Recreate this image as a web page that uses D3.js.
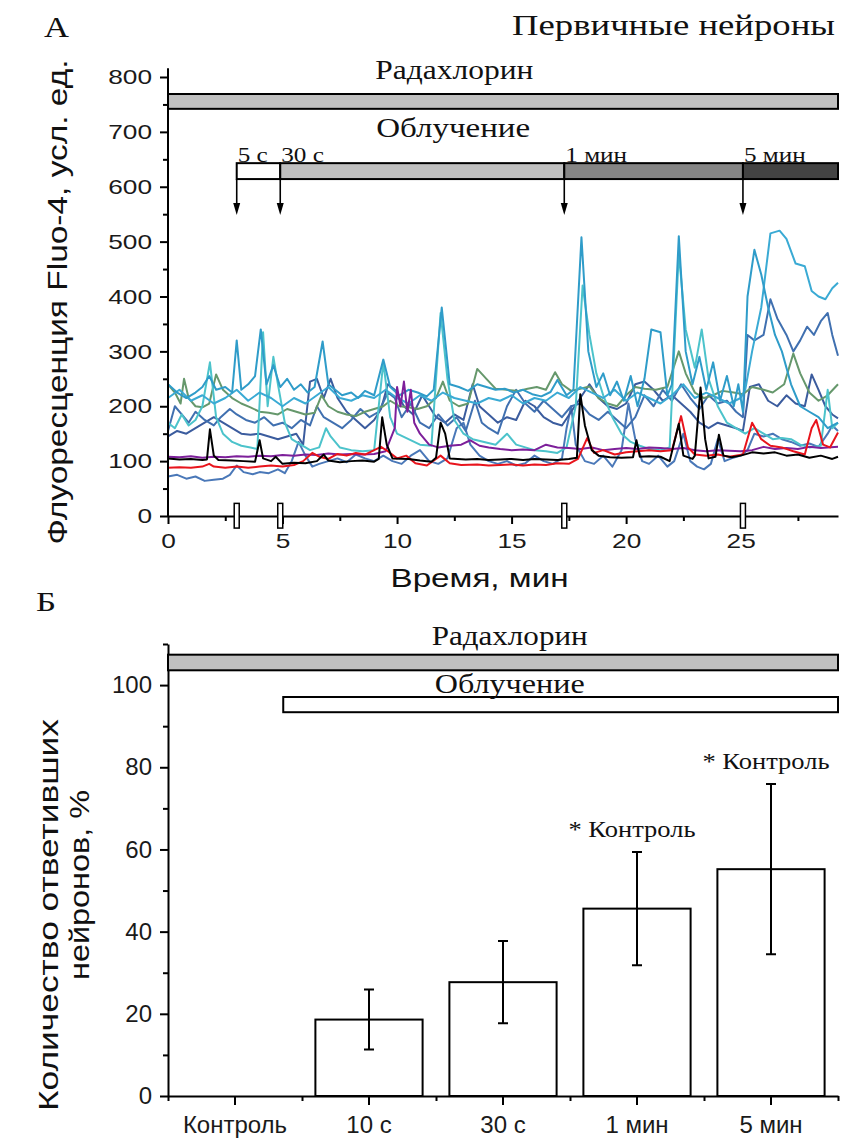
<!DOCTYPE html>
<html>
<head>
<meta charset="utf-8">
<title>Первичные нейроны</title>
<style>
  body { margin: 0; background: #fff; }
  .sans { font-family: "Liberation Sans", Arial, sans-serif; }
  .serif { font-family: "Liberation Serif", "Times New Roman", serif; }
  .axis path, .axis line { stroke: #000; stroke-width: 2; fill: none; }
  .axis text { fill: #1a1a1a; }
</style>
</head>
<body>
<script src="https://d3js.org/d3.v7.min.js"></script>
<script>
    var width = 842,
        height = 1138;

    // ---- panel A: Fluo-4 traces, [time (min), fluorescence] ----
    var traceBlack = [[0,105],[0.5,103],[1,104],[1.5,102],[1.7,103],[1.83,158],[2.0,110],[2.2,102],[2.8,101],[3.3,100],[3.8,99],[4.0,138],[4.15,105],[4.5,100],[4.7,108],[5.0,95],[5.5,97],[6.0,96],[6.5,100],[6.8,112],[7.0,101],[7.5,98],[8.0,100],[8.5,101],[9.0,99],[9.2,104],[9.35,180],[9.55,130],[9.8,105],[10.5,104],[11.0,101],[11.5,99],[11.7,106],[11.9,170],[12.1,150],[12.3,105],[13.0,103],[13.5,104],[14,102],[14.5,103],[15,104],[15.5,102],[16,104],[16.5,103],[17,102],[17.5,104],[17.85,106],[18.0,222],[18.2,165],[18.5,120],[18.8,110],[19.3,107],[19.8,106],[20.3,107],[20.45,138],[20.6,108],[21,109],[21.5,108],[21.9,100],[22.3,168],[22.5,110],[22.9,104],[23.0,110],[23.25,234],[23.45,140],[23.6,105],[23.9,108],[24.05,148],[24.25,110],[24.6,107],[25,110],[25.5,116],[26,114],[26.5,116],[27,110],[27.5,112],[28,106],[28.5,110],[29,104],[29.25,108]];
    var traceRed = [[0,88],[0.5,89],[1,88],[1.5,90],[1.8,95],[2.0,90],[2.5,88],[3,90],[3.5,88],[4,90],[4.5,92],[5,90],[5.5,93],[5.9,100],[6.3,115],[6.6,108],[7,104],[7.4,113],[7.8,110],[8.2,115],[8.6,112],[9.0,120],[9.3,126],[9.6,118],[10,105],[10.4,110],[10.8,96],[11.3,92],[11.9,110],[12.3,96],[12.8,93],[13.5,94],[14,92],[14.5,93],[15,94],[15.5,92],[16,94],[16.5,93],[17,96],[17.5,95],[17.9,104],[18.3,142],[18.6,115],[19,120],[19.5,112],[20,116],[20.5,118],[21,120],[21.5,118],[22.0,120],[22.4,182],[22.7,125],[23,112],[23.5,110],[24,112],[24.5,108],[25.1,112],[25.5,170],[25.9,140],[26.3,128],[26.8,125],[27.3,118],[27.8,112],[28.1,160],[28.3,175],[28.6,130],[28.9,125],[29.25,152]];
    var tracePurple = [[0,108],[0.5,107],[1,109],[1.5,106],[2,108],[2.5,107],[3,109],[3.5,108],[4,110],[4.5,109],[5,111],[5.5,110],[6,112],[6.5,111],[7,114],[7.5,112],[8,113],[8.5,112],[9,113],[9.5,118],[9.9,160],[10.0,235],[10.15,200],[10.3,245],[10.45,190],[10.6,230],[10.75,170],[11.0,150],[11.4,130],[11.8,125],[12.3,128],[12.8,130],[13.2,138],[13.6,128],[14,125],[14.5,122],[15,120],[15.5,121],[16,120],[16.5,130],[17,125],[17.5,124],[18,122],[18.5,125],[19,120],[19.5,122],[20,124],[20.5,122],[21,125],[21.5,124],[22,122],[22.5,124],[23,120],[23.5,118],[24,120],[24.5,119],[25,118],[25.5,120],[26,126],[26.5,122],[27,124],[27.5,122],[28,126],[28.5,124],[29.25,126]];
    var traceGreen = [[0,240],[0.3,225],[0.55,205],[0.7,250],[0.9,215],[1.2,200],[1.5,198],[1.8,205],[2.1,258],[2.4,230],[2.8,215],[3.2,205],[3.6,198],[4.0,190],[4.4,188],[4.8,185],[5.2,195],[5.6,190],[6.0,185],[6.4,188],[6.7,220],[7.0,200],[7.4,190],[7.8,185],[8.2,182],[8.6,190],[9.0,195],[9.4,200],[9.7,210],[10.1,200],[10.5,198],[10.9,195],[11.3,200],[11.7,215],[12.0,245],[12.3,210],[12.7,200],[13.1,205],[13.5,268],[13.9,250],[14.3,232],[14.8,230],[15.3,228],[15.7,232],[16.1,235],[16.5,230],[16.9,262],[17.2,240],[17.6,228],[18.0,232],[18.4,236],[18.8,215],[19.2,205],[19.6,200],[20.0,220],[20.4,235],[20.8,232],[21.3,230],[21.8,235],[22.3,300],[22.6,260],[23.0,225],[23.4,215],[23.8,220],[24.2,228],[24.7,225],[25.1,222],[25.5,235],[26.0,230],[26.4,225],[26.9,240],[27.3,296],[27.6,260],[28.0,225],[28.4,210],[28.8,220],[29.25,240]];
    var traceTurquoise = [[0,170],[0.3,160],[0.6,185],[0.9,165],[1.2,175],[1.5,200],[1.83,280],[2.1,180],[2.4,150],[2.8,135],[3.2,128],[3.6,125],[3.9,122],[4.15,335],[4.35,200],[4.6,290],[4.8,240],[5.1,170],[5.4,140],[5.8,130],[6.2,120],[6.6,125],[6.9,160],[7.1,145],[7.5,125],[8,120],[8.5,118],[9,120],[9.4,280],[9.7,180],[10,150],[10.5,140],[11,130],[11.5,128],[11.9,370],[12.2,250],[12.5,175],[12.9,150],[13.3,140],[13.8,135],[14.3,130],[14.8,150],[15.2,130],[15.6,125],[16,120],[16.5,118],[17,115],[17.4,125],[17.8,200],[18.1,420],[18.4,330],[18.7,260],[19.0,220],[19.4,180],[19.8,150],[20.2,135],[20.6,128],[21,122],[21.5,120],[21.9,125],[22.3,480],[22.6,340],[23.0,270],[23.3,340],[23.6,250],[24.0,200],[24.4,170],[24.8,160],[25.2,150],[25.6,160],[26,150],[26.4,140],[26.8,142],[27.2,140],[27.6,130],[28,125],[28.5,128],[28.8,230],[29.0,160],[29.25,170]];
    var traceSky = [[0,240],[0.4,225],[0.8,215],[1.2,225],[1.5,235],[1.8,255],[2.1,230],[2.5,235],[2.8,225],[3.0,320],[3.2,230],[3.5,240],[3.8,255],[4.05,340],[4.3,240],[4.6,275],[4.9,235],[5.2,250],[5.5,230],[5.8,240],[6.1,225],[6.4,235],[6.75,318],[7.0,240],[7.3,230],[7.6,220],[8.0,225],[8.3,215],[8.6,228],[9.0,220],[9.4,285],[9.7,235],[10.1,220],[10.5,230],[10.9,225],[11.3,218],[11.6,230],[11.95,380],[12.3,240],[12.7,235],[13.1,228],[13.5,240],[13.9,235],[14.3,230],[14.7,232],[15.1,225],[15.5,230],[15.9,222],[16.3,218],[16.7,226],[17.0,248],[17.4,220],[17.7,230],[18.05,508],[18.35,300],[18.7,235],[19.0,260],[19.3,220],[19.6,245],[19.9,210],[20.2,255],[20.5,200],[20.8,250],[21.1,340],[21.5,335],[21.8,220],[22.0,240],[22.3,510],[22.6,300],[22.9,240],[23.2,290],[23.5,230],[23.8,280],[24.1,210],[24.4,255],[24.7,200],[24.9,240],[25.1,190],[25.3,400],[25.6,485],[25.9,440],[26.2,380],[26.5,330],[26.8,300],[27.2,240],[27.6,200],[28.0,190],[28.4,180],[28.8,160],[29.25,170]];
    var traceSkyLight = [[0,215],[0.5,230],[1.0,210],[1.5,220],[2.0,205],[2.5,215],[3.0,230],[3.5,210],[4.0,225],[4.5,215],[5.0,200],[5.5,215],[6.0,205],[6.5,220],[7.0,235],[7.5,215],[8.0,210],[8.5,220],[9.0,215],[9.5,230],[10.0,215],[10.5,205],[11.0,220],[11.5,210],[12.0,225],[12.5,215],[13.0,210],[13.5,205],[14.0,215],[14.5,210],[15.0,220],[15.5,205],[16.0,215],[16.5,210],[17.0,225],[17.5,215],[18.0,235],[18.5,225],[19.0,215],[19.5,230],[20.0,210],[20.5,225],[21.0,215],[21.5,205],[22.0,220],[22.5,240],[23.0,215],[23.5,225],[24.0,215],[24.5,205],[25.0,215],[25.2,230],[25.5,300],[25.9,380],[26.3,515],[26.7,520],[27.0,505],[27.4,460],[27.8,455],[28.1,410],[28.4,400],[28.7,395],[29.0,415],[29.25,425]];
    var traceSteel = [[0,155],[0.3,200],[0.6,185],[0.9,170],[1.2,190],[1.6,175],[2.0,165],[2.3,180],[2.7,195],[3.0,185],[3.4,175],[3.8,170],[4.2,180],[4.6,165],[5.0,170],[5.4,160],[5.8,175],[6.2,165],[6.5,200],[6.8,180],[7.2,170],[7.6,160],[8.0,175],[8.4,195],[8.8,180],[9.2,190],[9.6,225],[9.9,215],[10.2,180],[10.6,205],[11.0,170],[11.4,160],[11.8,185],[12.2,165],[12.6,180],[13.0,155],[13.4,210],[13.7,170],[14.0,160],[14.4,150],[14.8,200],[15.2,230],[15.6,205],[16.0,190],[16.4,210],[16.8,195],[17.2,180],[17.6,200],[18.0,205],[18.4,185],[18.8,175],[19.2,190],[19.6,175],[20.0,160],[20.4,180],[20.8,220],[21.2,200],[21.6,230],[22.0,210],[22.4,240],[22.8,215],[23.2,195],[23.6,220],[24.0,205],[24.4,210],[24.8,190],[25.1,180],[25.3,330],[25.6,320],[26.0,330],[26.3,395],[26.6,360],[27.0,330],[27.3,300],[27.6,320],[27.9,345],[28.2,330],[28.5,355],[28.8,370],[29.0,330],[29.25,292]];
    var traceNavy = [[0,145],[0.4,155],[0.8,150],[1.2,160],[1.6,170],[2.0,180],[2.4,170],[2.8,160],[3.2,150],[3.6,148],[4.0,150],[4.4,145],[4.8,140],[5.2,145],[5.6,150],[5.9,130],[6.2,245],[6.5,250],[6.8,215],[7.1,250],[7.4,215],[7.8,190],[8.2,175],[8.6,160],[9.0,175],[9.3,195],[9.6,240],[9.9,230],[10.3,200],[10.7,185],[11.1,220],[11.4,200],[11.7,180],[12.1,170],[12.5,185],[12.9,175],[13.3,240],[13.6,200],[14,185],[14.4,170],[14.8,180],[15.2,175],[15.6,210],[16,200],[16.4,180],[16.8,170],[17.2,165],[17.6,190],[18.0,215],[18.4,240],[18.8,215],[19.2,200],[19.6,195],[20.0,205],[20.4,240],[20.8,245],[21.2,230],[21.6,210],[22.0,220],[22.4,205],[22.8,190],[23.2,170],[23.6,160],[24.0,170],[24.4,165],[24.8,160],[25.1,155],[25.4,235],[25.8,240],[26.2,210],[26.6,200],[27.0,220],[27.4,205],[27.8,200],[28.1,258],[28.4,230],[28.7,200],[29.0,185],[29.25,178]];
    var traceLowBlue = [[0,72],[0.4,75],[0.8,68],[1.2,72],[1.6,64],[2.0,66],[2.4,68],[2.7,75],[3.0,92],[3.3,80],[3.7,76],[4.0,80],[4.4,78],[4.8,85],[5.1,78],[5.4,100],[5.7,135],[6.0,110],[6.3,90],[6.6,95],[7.0,100],[7.4,105],[7.8,98],[8.2,112],[8.6,105],[9.0,100],[9.4,110],[9.8,100],[10.2,95],[10.6,110],[11.0,120],[11.4,100],[11.8,95],[12.2,105],[12.6,160],[12.9,170],[13.2,130],[13.6,110],[14.0,100],[14.4,95],[14.8,100],[15.2,92],[15.6,96],[16.0,110],[16.4,100],[16.8,95],[17.2,105],[17.4,160],[17.6,200],[17.8,130],[18.2,100],[18.6,95],[19.0,110],[19.4,90],[19.8,120],[20.1,205],[20.4,140],[20.7,100],[21.0,95],[21.4,110],[21.8,90],[22.1,100],[22.5,150],[22.8,100],[23.1,90],[23.4,85],[23.7,95],[24.0,140],[24.3,100],[24.6,105],[25.0,110],[25.3,120],[25.6,150],[26.0,145],[26.4,150],[26.8,140],[27.2,135],[27.6,128],[28.0,132],[28.4,126],[28.8,150],[29.0,165],[29.25,155]];

    // drawing order, back to front
    var traces = [traceLowBlue, traceNavy, traceSteel, traceGreen, traceTurquoise, traceSkyLight, traceSky, tracePurple, traceRed, traceBlack];
    var traceColors = ["#4a78b8", "#3b5c9e", "#4070b0", "#66986c", "#4cc3cb", "#3aaad4", "#2f9cc9", "#7d1f9a", "#e8141c", "#000000"];

    // treatment bars of panel A (time in min, bar bounds in fluorescence units)
    var radachlorinA = [0, 29.25, 742, 769];
    var irradiationA = [614, 643];
    var irradiationTimes = [3, 4.9, 17.3, 25.1];
    var irradiationLabels = ["5 с", "30 с", "1 мин", "5 мин"];
    var irradiationFills = ["#ffffff", "#c0c0c0", "#858585", "#434343"];

    // ---- panel B: share of responding neurons ----
    var categories = ["Контроль", "10 с", "30 с", "1 мин", "5 мин"];
    var responded = [0, 18.6, 27.7, 45.6, 55.2];
    var respondedErr = [0, 7.3, 10, 13.8, 20.7];
    var vsControl = [false, false, false, true, true];
    var radachlorinB = [103.6, 107.4];
    var irradiationB = [93.4, 97.1];

    var sans = "sans", serif = "serif";

    var svg = d3.select("body").append("svg")
        .attr("width", width)
        .attr("height", height);

    function stretch(sel, k) { // the original panel A lettering is a bit wide
        sel.each(function () {
            var w = this.getComputedTextLength();
            this.setAttribute("textLength", w * k);
            this.setAttribute("lengthAdjust", "spacingAndGlyphs");
        });
    }

    function label(x, y, str, cls, size, len, anchor) {
        var t = svg.append("text")
            .attr("class", cls)
            .attr("x", x).attr("y", y)
            .attr("font-size", size)
            .attr("text-anchor", anchor || "start")
            .attr("fill", "#111")
            .text(str);
        if (len) t.attr("textLength", len).attr("lengthAdjust", "spacingAndGlyphs");
        return t;
    }

    // ================= panel A =================
    var xA = d3.scaleLinear().domain([0, 29.25]).range([168, 838]);
    var yA = d3.scaleLinear().domain([0, 800]).range([516, 77]);

    var gA = svg.append("g");

    // traces
    var line = d3.line()
        .x(function (d) { return xA(d[0]); })
        .y(function (d) { return yA(d[1]); });

    gA.selectAll("path.trace")
        .data(traces)
        .enter().append("path")
        .attr("class", "trace")
        .attr("d", line)
        .attr("fill", "none")
        .attr("stroke", function (d, i) { return traceColors[i]; })
        .attr("stroke-width", 2)
        .attr("stroke-linejoin", "round");

    // axes
    var yAxisA = gA.append("g").attr("class", "axis sans")
        .attr("transform", "translate(168,0)")
        .call(d3.axisLeft(yA).tickValues(d3.range(0, 801, 100)).tickSize(8).tickPadding(8).tickSizeOuter(0));
    yAxisA.selectAll("text").attr("font-size", 21).call(stretch, 1.25);
    yAxisA.select(".domain").attr("d", "M0," + yA(0) + "V" + yA(816));
    gA.append("g").attr("class", "axis")
        .attr("transform", "translate(168,0)")
        .call(d3.axisLeft(yA).tickValues(d3.range(50, 800, 100)).tickSize(5).tickFormat("").tickSizeOuter(0))
        .select(".domain").remove();

    var xAxisA = gA.append("g").attr("class", "axis sans")
        .attr("transform", "translate(0," + yA(0) + ")")
        .call(d3.axisBottom(xA).tickValues(d3.range(0, 26, 5)).tickSize(8).tickPadding(9).tickSizeOuter(0));
    xAxisA.selectAll("text").attr("font-size", 21).call(stretch, 1.25);
    gA.append("g").attr("class", "axis")
        .attr("transform", "translate(0," + yA(0) + ")")
        .call(d3.axisBottom(xA).tickValues(d3.range(2.5, 29, 5)).tickSize(5).tickFormat("").tickSizeOuter(0))
        .select(".domain").remove();

    // irradiation markers on the time axis
    gA.selectAll("rect.mark")
        .data(irradiationTimes)
        .enter().append("rect")
        .attr("class", "mark")
        .attr("x", function (d) { return xA(d) - 2.5; })
        .attr("y", yA(23))
        .attr("width", 5)
        .attr("height", yA(-22) - yA(23))
        .attr("fill", "#fff")
        .attr("stroke", "#000")
        .attr("stroke-width", 1.5);

    // radachlorin bar
    gA.append("rect")
        .attr("x", xA(radachlorinA[0]))
        .attr("y", yA(radachlorinA[3]))
        .attr("width", xA(radachlorinA[1]) - xA(radachlorinA[0]))
        .attr("height", yA(radachlorinA[2]) - yA(radachlorinA[3]))
        .attr("fill", "#c0c0c0").attr("stroke", "#000").attr("stroke-width", 2);

    // irradiation bar, one segment per dose
    gA.selectAll("rect.dose")
        .data(irradiationTimes)
        .enter().append("rect")
        .attr("class", "dose")
        .attr("x", function (d) { return xA(d); })
        .attr("y", yA(irradiationA[1]))
        .attr("width", function (d, i) {
            var end = i < irradiationTimes.length - 1 ? irradiationTimes[i + 1] : 29.25;
            return xA(end) - xA(d);
        })
        .attr("height", yA(irradiationA[0]) - yA(irradiationA[1]))
        .attr("fill", function (d, i) { return irradiationFills[i]; })
        .attr("stroke", "#000").attr("stroke-width", 2);

    // arrows down from each dose
    irradiationTimes.forEach(function (t) {
        var x = xA(t), y0 = yA(irradiationA[0]);
        gA.append("line")
            .attr("x1", x).attr("x2", x)
            .attr("y1", y0).attr("y2", y0 + 26)
            .attr("stroke", "#000").attr("stroke-width", 1.6);
        gA.append("path")
            .attr("d", "M" + (x - 3.5) + "," + (y0 + 24) + "L" + (x + 3.5) + "," + (y0 + 24) + "L" + x + "," + (y0 + 36) + "Z")
            .attr("fill", "#000");
    });

    irradiationLabels.forEach(function (s, i) {
        var t = label(xA(irradiationTimes[i]) + 1, yA(irradiationA[1]) - 1, s, serif, 21);
        stretch(t, 1.2);
    });

    label(xA(12.5), 79, "Радахлорин", serif, 27, 158, "middle");
    label(xA(12.45), 137, "Облучение", serif, 27, 154, "middle");
    label(835, 35, "Первичные нейроны", serif, 30, 323, "end");
    label(44, 37, "А", serif, 29, 25);

    label(xA(13.6), 587, "Время, мин", sans, 26, 178, "middle");

    svg.append("text")
        .attr("class", sans)
        .attr("transform", "translate(67,302) rotate(-90)")
        .attr("font-size", 27)
        .attr("text-anchor", "middle")
        .attr("fill", "#111")
        .attr("textLength", 485).attr("lengthAdjust", "spacingAndGlyphs")
        .text("Флуоресценция Fluo-4, усл. ед.");

    // ================= panel B =================
    var xB = d3.scaleBand().domain(categories).range([168, 838]).paddingInner(0.2).paddingOuter(0.1);
    var idxB = d3.scaleLinear().domain([-0.5, 4.5]).range([168, 838]);
    var yB = d3.scaleLinear().domain([0, 110]).range([1096, 644]);

    var gB = svg.append("g");

    var yAxisB = gB.append("g").attr("class", "axis sans")
        .attr("transform", "translate(168,0)")
        .call(d3.axisLeft(yB).tickValues(d3.range(0, 101, 20)).tickSize(8).tickPadding(8).tickSizeOuter(0));
    yAxisB.selectAll("text").attr("font-size", 24);
    gB.append("g").attr("class", "axis")
        .attr("transform", "translate(168,0)")
        .call(d3.axisLeft(yB).tickValues(d3.range(10, 111, 20)).tickSize(5).tickFormat("").tickSizeOuter(0))
        .select(".domain").remove();

    var xAxisB = gB.append("g").attr("class", "axis sans")
        .attr("transform", "translate(0," + yB(0) + ")")
        .call(d3.axisBottom(xB).tickSize(9).tickPadding(11).tickSizeOuter(0));
    xAxisB.selectAll("text").attr("font-size", 24);
    gB.append("g").attr("class", "axis")
        .attr("transform", "translate(0," + yB(0) + ")")
        .call(d3.axisBottom(idxB).tickValues(d3.range(-0.5, 4.6, 1)).tickSize(5).tickFormat("").tickSizeOuter(0))
        .select(".domain").remove();

    // bars
    gB.selectAll("rect.bar")
        .data(categories)
        .enter().append("rect")
        .attr("class", "bar")
        .attr("x", function (d) { return xB(d); })
        .attr("y", function (d, i) { return yB(responded[i]); })
        .attr("width", xB.bandwidth())
        .attr("height", function (d, i) { return yB(0) - yB(responded[i]); })
        .attr("fill", "#fff")
        .attr("stroke", function (d, i) { return responded[i] > 0 ? "#000" : "none"; })
        .attr("stroke-width", 2);

    // error bars
    categories.forEach(function (c, i) {
        if (!respondedErr[i]) return;
        var cx = xB(c) + xB.bandwidth() / 2,
            hi = yB(responded[i] + respondedErr[i]),
            lo = yB(responded[i] - respondedErr[i]);
        gB.append("path")
            .attr("d", "M" + cx + "," + hi + "V" + lo +
                "M" + (cx - 5) + "," + hi + "H" + (cx + 5) +
                "M" + (cx - 5) + "," + lo + "H" + (cx + 5))
            .attr("stroke", "#000").attr("stroke-width", 2).attr("fill", "none");
        if (vsControl[i]) {
            label(cx - 5, hi - 15, "* Контроль", serif, 23, 127, "middle");
        }
    });

    // treatment bars
    gB.append("rect")
        .attr("x", idxB(-0.5)).attr("y", yB(radachlorinB[1]))
        .attr("width", idxB(4.5) - idxB(-0.5))
        .attr("height", yB(radachlorinB[0]) - yB(radachlorinB[1]))
        .attr("fill", "#c0c0c0").attr("stroke", "#000").attr("stroke-width", 2);
    gB.append("rect")
        .attr("x", idxB(0.36)).attr("y", yB(irradiationB[1]))
        .attr("width", idxB(4.5) - idxB(0.36))
        .attr("height", yB(irradiationB[0]) - yB(irradiationB[1]))
        .attr("fill", "#fff").attr("stroke", "#000").attr("stroke-width", 2);

    label(idxB(2.05), 645, "Радахлорин", serif, 27, 156, "middle");
    label(idxB(2.05), 693, "Облучение", serif, 27, 150, "middle");
    label(36, 611, "Б", serif, 27, 20);

    var yLabB = svg.append("text")
        .attr("class", sans)
        .attr("transform", "translate(0,0) rotate(-90)")
        .attr("font-size", 27)
        .attr("text-anchor", "middle")
        .attr("fill", "#111");
    yLabB.append("tspan").attr("x", -915).attr("y", 58)
        .attr("textLength", 392).attr("lengthAdjust", "spacingAndGlyphs")
        .text("Количество ответивших");
    yLabB.append("tspan").attr("x", -885).attr("y", 89)
        .attr("textLength", 190).attr("lengthAdjust", "spacingAndGlyphs")
        .text("нейронов, %");
</script>
</body>
</html>
